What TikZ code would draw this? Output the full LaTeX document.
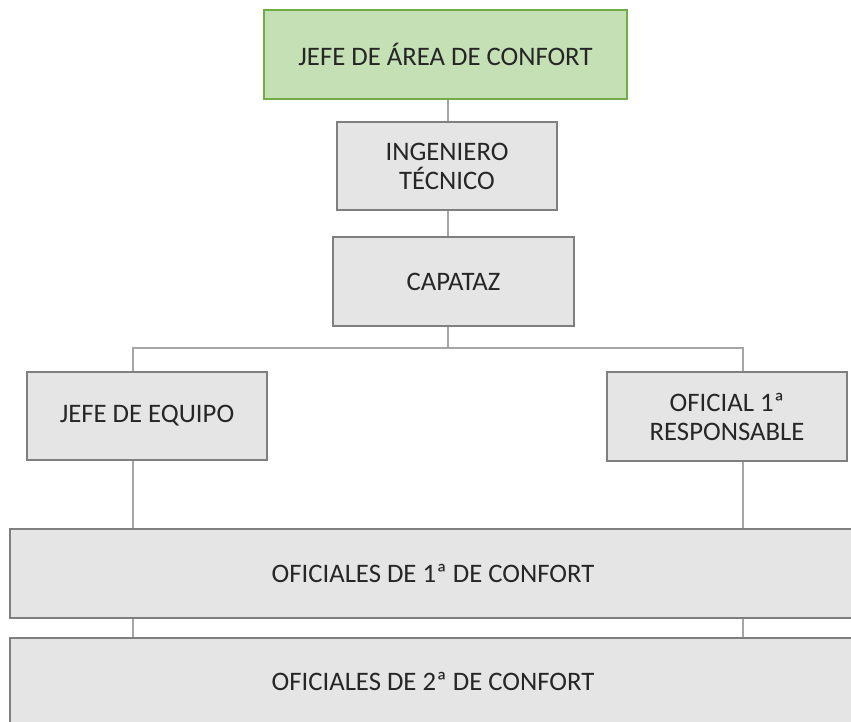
\documentclass[tikz,border=0pt]{standalone}
\usepackage{fontspec}
\setmainfont{Carlito}
\definecolor{cajagris}{HTML}{E5E5E5}
\definecolor{bordegris}{HTML}{7F7F7F}
\definecolor{lineagris}{HTML}{A6A6A6}
\definecolor{verdeclaro}{HTML}{C5E0B4}
\definecolor{verdeborde}{HTML}{70AD47}
\tikzset{
  caja/.style={draw=bordegris, fill=cajagris, line width=1.6pt, inner sep=0pt,
    align=center, text=black!85, font=\fontsize{22.8}{24.7}\selectfont},
  cajajefe/.style={caja, draw=verdeborde, fill=verdeclaro},
  conn/.style={draw=lineagris, line width=1.6pt}
}
\begin{document}
\begin{tikzpicture}[x=0.03cm, y=-0.03cm]
        \useasboundingbox (0,0) rectangle (851,721);
        % cajas
        \node[cajajefe, minimum width=10.89cm, minimum height=2.67cm] (jefe) at (445.5,54.5) {JEFE DE ÁREA DE CONFORT};
        \node[caja, minimum width=6.6cm, minimum height=2.64cm] (ing) at (447,166) {INGENIERO\\TÉCNICO};
        \node[caja, minimum width=7.23cm, minimum height=2.67cm] (cap) at (453.5,281.5) {CAPATAZ};
        \node[caja, minimum width=7.2cm, minimum height=2.64cm] (equipo) at (147,416) {JEFE DE EQUIPO};
        \node[caja, minimum width=7.2cm, minimum height=2.67cm] (oficial) at (727,416.5) {OFICIAL 1ª\\RESPONSABLE};
        \node[caja, minimum width=25.38cm, minimum height=2.67cm] (of1) at (433,573.5) {OFICIALES DE 1ª DE CONFORT};
        \node[caja, minimum width=25.38cm, minimum height=2.58cm] (of2) at (433,681) {OFICIALES DE 2ª DE CONFORT};
        % lineas
        \coordinate (bus) at (448,348);
        \coordinate (busL) at (133,348);
        \coordinate (busR) at (743,348);
        \draw[conn] (ing.north -| bus) -- (jefe.south -| bus);
        \draw[conn] (ing.south -| bus) -- (cap.north -| bus);
        \draw[conn] (cap.south -| bus) -- (bus);
        \draw[conn] (busL |- equipo.north) -- (busL) -- (busR) -- (busR |- oficial.north);
        \draw[conn] (busL |- equipo.south) -- (busL |- of1.north);
        \draw[conn] (busR |- oficial.south) -- (busR |- of1.north);
        \draw[conn] (busL |- of1.south) -- (busL |- of2.north);
        \draw[conn] (busR |- of1.south) -- (busR |- of2.north);
\end{tikzpicture}
\end{document}
